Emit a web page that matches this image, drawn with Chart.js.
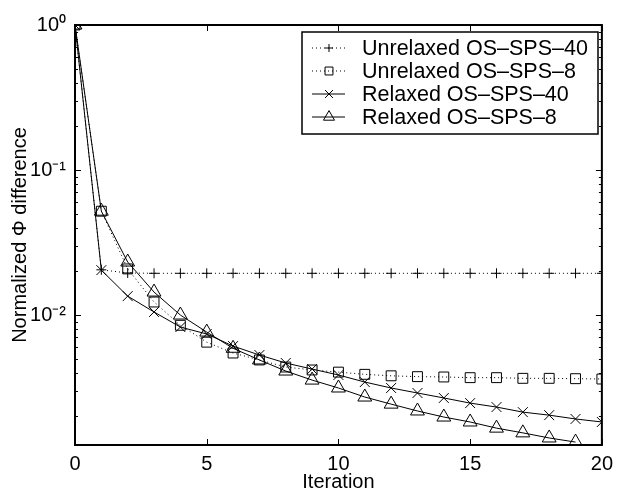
<!DOCTYPE html>
<html>
<head>
<meta charset="utf-8">
<script src="https://cdn.jsdelivr.net/npm/chart.js@4/dist/chart.umd.min.js"></script>
<style>
  html, body { margin: 0; padding: 0; background: #fff; }
  #wrap { width: 620px; height: 494px; }
</style>
</head>
<body>
<div id="wrap"><canvas id="chart"></canvas></div>
<script>
// Iterations and values
const iterations = [0, 1, 2, 3, 4, 5, 6, 7, 8, 9, 10, 11, 12, 13, 14, 15, 16, 17, 18, 19, 20];
const unrelaxed40 = [1, 0.0205, 0.0195, 0.0194, 0.0194, 0.0194, 0.0194, 0.0194, 0.0194, 0.0194, 0.0194,
  0.0194, 0.0194, 0.0194, 0.0194, 0.0194, 0.0194, 0.0194, 0.0194, 0.0194, 0.0194];
const unrelaxed8 = [1, 0.052, 0.0208, 0.0123, 0.0085, 0.0065, 0.00547, 0.0049, 0.00438, 0.00418, 0.00404,
  0.0039, 0.00381, 0.00376, 0.00374, 0.0037, 0.0037, 0.00366, 0.00366, 0.00364, 0.00362];
const relaxed40 = [1, 0.0204, 0.0135, 0.0105, 0.00826, 0.0074, 0.00611, 0.0053, 0.00467, 0.00424, 0.00386,
  0.00345, 0.00314, 0.0029, 0.00268, 0.00247, 0.00232, 0.00214, 0.00204, 0.00192, 0.00183];
const relaxed8 = [1, 0.052, 0.0232, 0.0144, 0.01, 0.00763, 0.0059, 0.0049, 0.00411, 0.00356, 0.00314,
  0.00272, 0.00243, 0.00218, 0.00198, 0.00183, 0.00166, 0.00154, 0.00142, 0.00133, null];

const seriesNames = ["Unrelaxed OS\u2013SPS\u201340", "Unrelaxed OS\u2013SPS\u20138", "Relaxed OS\u2013SPS\u201340", "Relaxed OS\u2013SPS\u20138"];
const xTicks = [0, 5, 10, 15, 20];
const yMajorTicks = [0.01, 0.1, 1];
const yTickLabels = ["10\u207B\u00B2", "10\u207B\u00B9", "10\u2070"];
const yMinorTicks = [0.002, 0.003, 0.004, 0.005, 0.006, 0.007, 0.008, 0.009,
  0.02, 0.03, 0.04, 0.05, 0.06, 0.07, 0.08, 0.09,
  0.2, 0.3, 0.4, 0.5, 0.6, 0.7, 0.8, 0.9];
const yMin = 0.00127, yMax = 1;

const FONT = "'Liberation Sans', Arial, Helvetica, sans-serif";

function pts(vals) {
  return iterations.map((x, i) => ({ x: x, y: vals[i] }));
}

const styles = [
  { pointStyle: "cross", pointRadius: 5, borderDash: [1, 3] },
  { pointStyle: "rect", pointRadius: 7, borderDash: [1, 3] },
  { pointStyle: "crossRot", pointRadius: 7, borderDash: [] },
  { pointStyle: "triangle", pointRadius: 8, borderDash: [] },
];
const allValues = [unrelaxed40, unrelaxed8, relaxed40, relaxed8];

// inward ticks, box and legend drawn inside the axes
const boxPlugin = {
  id: "box",
  afterDraw(chart) {
    const { ctx, chartArea: { left, right, top, bottom }, scales: { x, y } } = chart;
    ctx.save();
    ctx.strokeStyle = "#000";
    ctx.lineWidth = 1;
    ctx.beginPath();
    xTicks.forEach(v => {
      const px = Math.round(x.getPixelForValue(v)) + 0.5;
      ctx.moveTo(px, bottom); ctx.lineTo(px, bottom - 6);
      ctx.moveTo(px, top); ctx.lineTo(px, top + 6);
    });
    yMajorTicks.forEach(v => {
      const py = Math.round(y.getPixelForValue(v)) + 0.5;
      ctx.moveTo(left, py); ctx.lineTo(left + 6, py);
      ctx.moveTo(right, py); ctx.lineTo(right - 6, py);
    });
    yMinorTicks.forEach(v => {
      const py = Math.round(y.getPixelForValue(v)) + 0.5;
      ctx.moveTo(left, py); ctx.lineTo(left + 3, py);
      ctx.moveTo(right, py); ctx.lineTo(right - 3, py);
    });
    ctx.stroke();
    ctx.lineWidth = 2;
    ctx.strokeRect(left, top, right - left, bottom - top);

    // legend
    const lx = 302, ly = 32, lw = 296, lh = 102;
    ctx.fillStyle = "#fff";
    ctx.fillRect(lx, ly, lw, lh);
    ctx.lineWidth = 1.5;
    ctx.strokeRect(lx, ly, lw, lh);
    ctx.font = "21.5px " + FONT;
    ctx.textBaseline = "middle";
    seriesNames.forEach((name, i) => {
      const ry = ly + 16 + i * 23;
      const s = styles[i];
      ctx.strokeStyle = "#000";
      ctx.lineWidth = 1;
      ctx.setLineDash(s.borderDash);
      ctx.beginPath();
      ctx.moveTo(lx + 10, ry); ctx.lineTo(lx + 43, ry);
      ctx.stroke();
      ctx.setLineDash([]);
      ctx.fillStyle = "rgba(0,0,0,0)";
      Chart.helpers.drawPoint(ctx, { pointStyle: s.pointStyle, radius: s.pointRadius * 0.8, borderWidth: 1, rotation: 0 }, lx + 27, ry);
      ctx.fillStyle = "#000";
      ctx.fillText(name, lx + 60, ry + 1);
    });
    ctx.restore();
  }
};

new Chart(document.getElementById("chart"), {
  type: "line",
  data: {
    datasets: seriesNames.map((name, i) => ({
      label: name,
      data: pts(allValues[i]),
      borderColor: "#000",
      backgroundColor: "rgba(0,0,0,0)",
      borderWidth: 1,
      borderDash: styles[i].borderDash,
      pointStyle: styles[i].pointStyle,
      pointRadius: styles[i].pointRadius,
      pointBorderColor: "#000",
      pointBackgroundColor: "rgba(0,0,0,0)",
      pointBorderWidth: 1,
      tension: 0,
      spanGaps: false,
    })),
  },
  options: {
    responsive: true,
    maintainAspectRatio: false,
    animation: false,
    layout: { padding: { top: 25, right: 16, left: 0, bottom: 0 } },
    plugins: { legend: { display: false }, tooltip: { enabled: false } },
    scales: {
      x: {
        type: "linear",
        min: 0, max: 20,
        grid: { display: false, drawTicks: false },
        border: { display: false },
        afterBuildTicks: s => { s.ticks = xTicks.map(v => ({ value: v })); },
        afterFit: s => { s.height = 49; },
        ticks: { color: "#000", font: { family: FONT, size: 20 }, padding: 7, maxRotation: 0 },
        title: { display: true, text: "Iteration", color: "#000", font: { family: FONT, size: 20 }, padding: { top: 0, bottom: 0 } },
      },
      y: {
        type: "logarithmic",
        min: yMin, max: yMax,
        grid: { display: false, drawTicks: false },
        border: { display: false },
        afterBuildTicks: s => { s.ticks = yMajorTicks.map(v => ({ value: v })); },
        afterFit: s => { s.width = 75; },
        ticks: {
          color: "#000", font: { family: FONT, size: 20 }, padding: 9,
          callback: v => { const k = yMajorTicks.indexOf(v); return k >= 0 ? yTickLabels[k] : ""; },
        },
        title: { display: true, text: "Normalized \u03A6 difference", color: "#000", font: { family: FONT, size: 20 }, padding: { top: 8, bottom: 0 } },
      },
    },
  },
  plugins: [boxPlugin],
});
</script>
</body>
</html>
